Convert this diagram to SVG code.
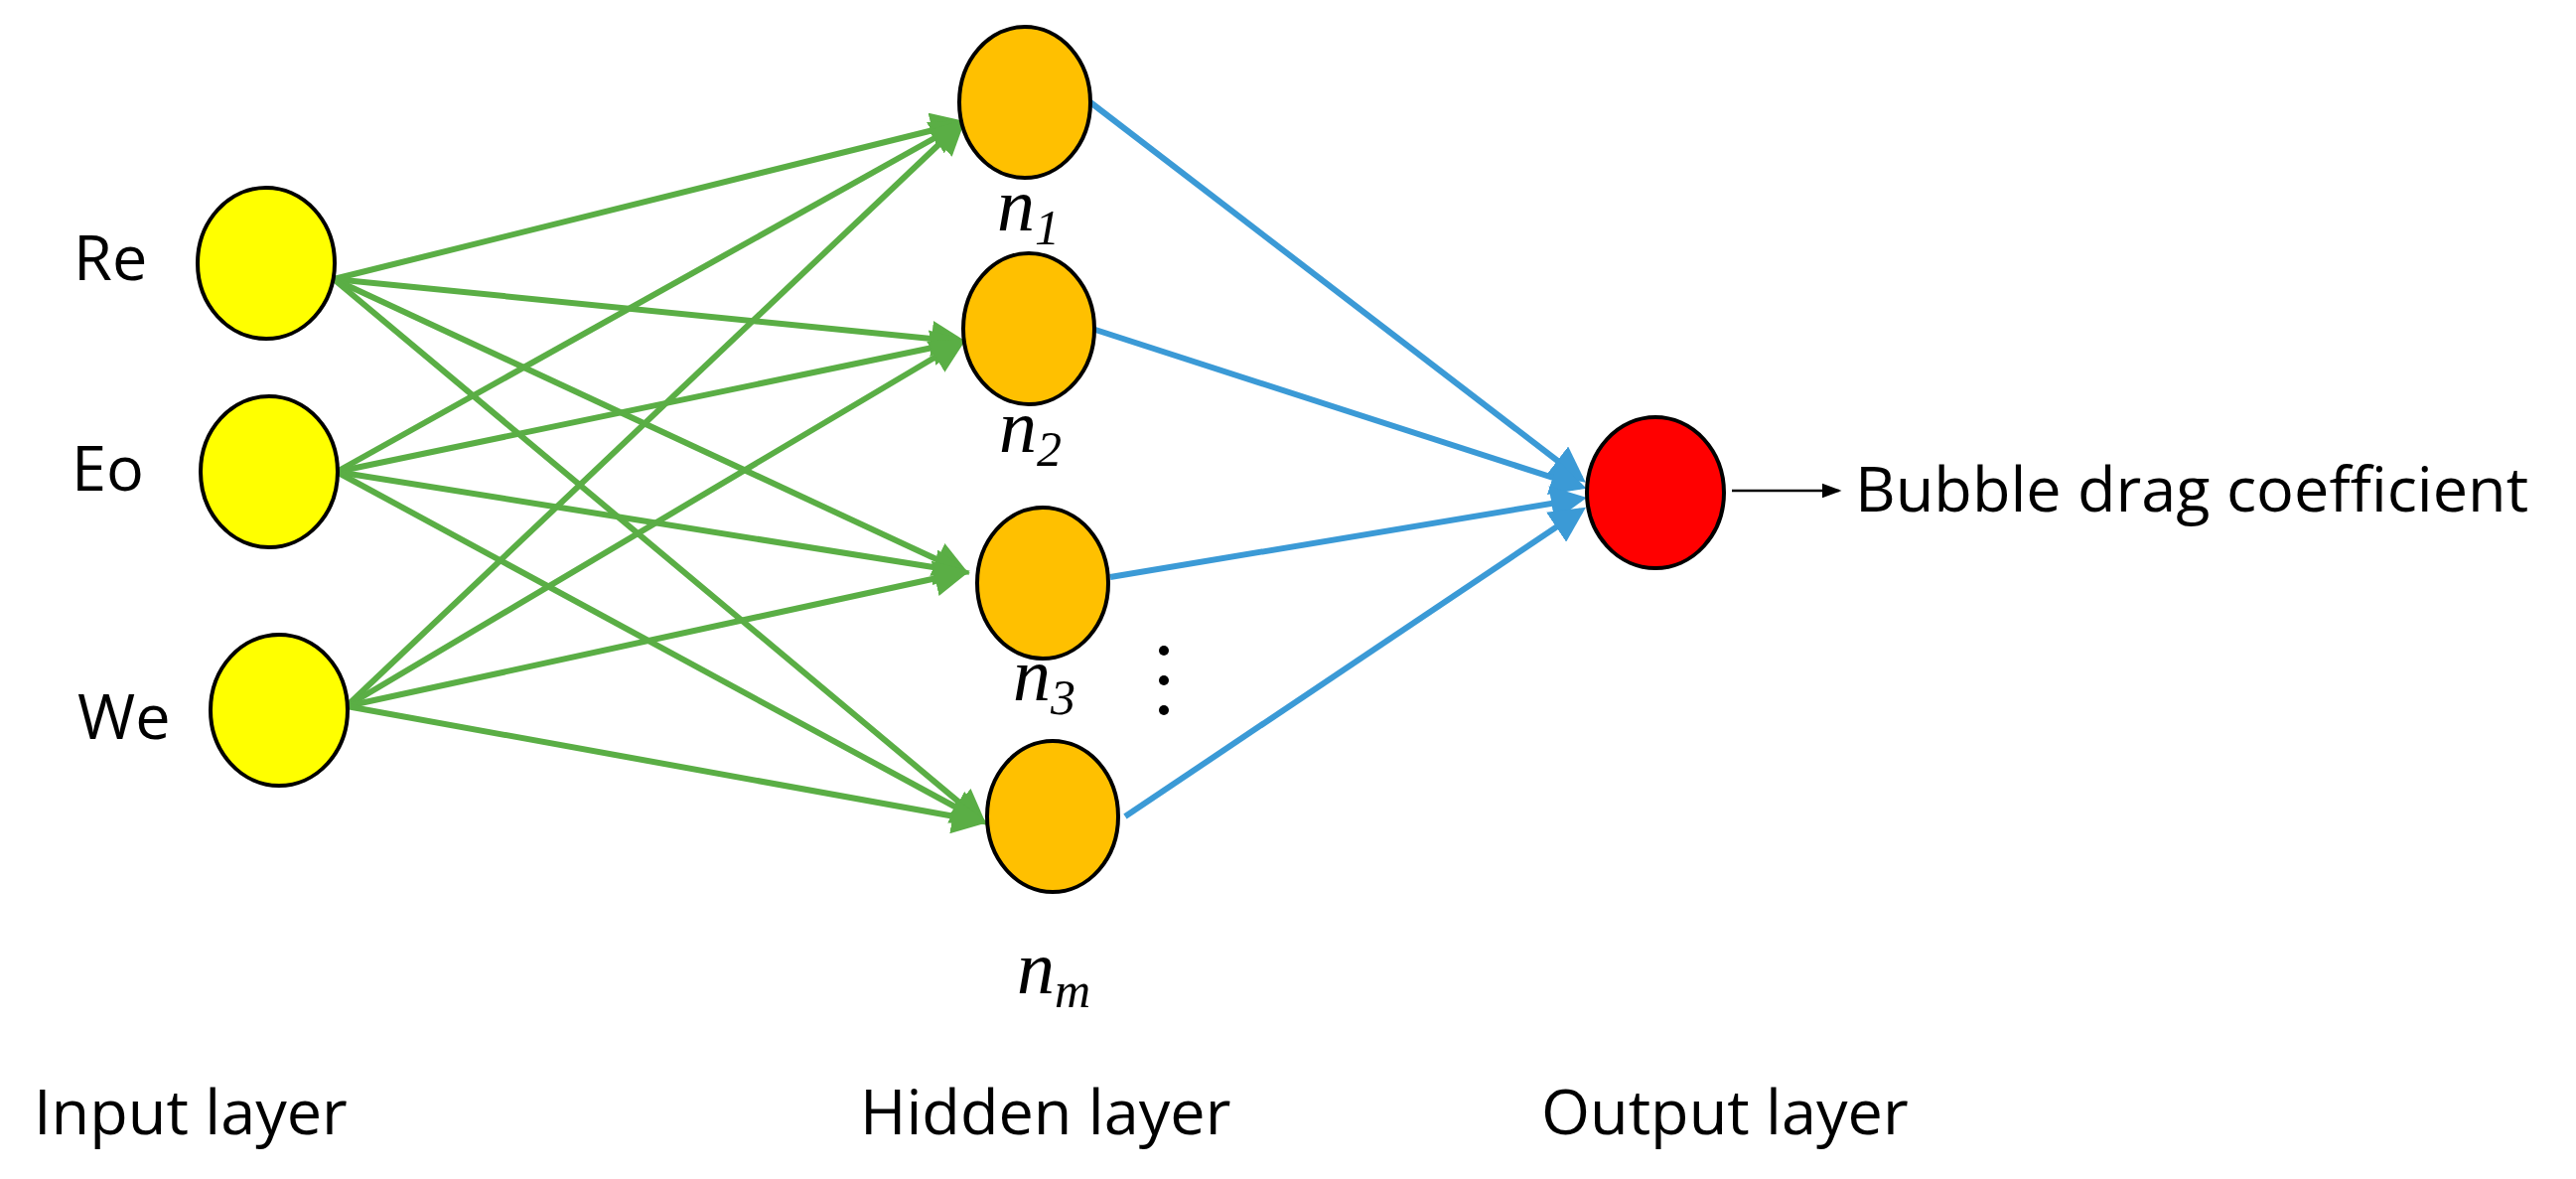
<svg xmlns="http://www.w3.org/2000/svg" width="2594" height="1187" viewBox="0 0 2594 1187">
<style>
.in{fill:#ffff00;stroke:#000;stroke-width:4}
.hid{fill:#ffc000;stroke:#000;stroke-width:4}
.out{fill:#ff0000;stroke:#000;stroke-width:4}
.g{stroke:#5aae45;stroke-width:6;fill:none;marker-end:url(#ag)}
.b{stroke:#3b9ad6;stroke-width:6;fill:none;marker-end:url(#ab)}
.t{font-family:"Open Sans","Liberation Sans",sans-serif;font-size:63px;fill:#000}
.m{font-family:"Liberation Serif",serif;font-style:italic;font-size:76px;fill:#000}
.s{font-size:50px}
</style>
<defs>
<marker id="ag" markerWidth="6" markerHeight="6" refX="5" refY="3" orient="auto" markerUnits="strokeWidth"><path d="M0,0 L6,3 L0,6 Z" fill="#5aae45"/></marker>
<marker id="ab" markerWidth="6" markerHeight="6" refX="5" refY="3" orient="auto" markerUnits="strokeWidth"><path d="M0,0 L6,3 L0,6 Z" fill="#3b9ad6"/></marker>
<marker id="ak" markerWidth="8" markerHeight="8" refX="7" refY="4" orient="auto" markerUnits="strokeWidth"><path d="M0,1 L8,4 L0,7 Z" fill="#000"/></marker>
</defs>
<g id="connectors">
<line class="g" x1="336" y1="281" x2="968" y2="124"/>
<line class="g" x1="336" y1="281" x2="968" y2="344"/>
<line class="g" x1="336" y1="281" x2="971" y2="576"/>
<line class="g" x1="336" y1="281" x2="989" y2="827"/>
<line class="g" x1="339" y1="475" x2="968" y2="124"/>
<line class="g" x1="339" y1="475" x2="968" y2="344"/>
<line class="g" x1="339" y1="475" x2="971" y2="576"/>
<line class="g" x1="339" y1="475" x2="989" y2="827"/>
<line class="g" x1="349" y1="711" x2="968" y2="124"/>
<line class="g" x1="349" y1="711" x2="968" y2="344"/>
<line class="g" x1="349" y1="711" x2="971" y2="576"/>
<line class="g" x1="349" y1="711" x2="989" y2="827"/>
<line class="b" x1="1098" y1="103" x2="1592" y2="482"/>
<line class="b" x1="1100" y1="331" x2="1592" y2="490"/>
<line class="b" x1="1118" y1="581" x2="1592" y2="502"/>
<line class="b" x1="1133" y1="822" x2="1592" y2="514"/>
<line x1="1744" y1="494" x2="1852" y2="494" stroke="#000" stroke-width="2.5" marker-end="url(#ak)"/>
</g>
<g id="re"><ellipse class="in" cx="268" cy="265" rx="69" ry="76"/><text class="t" x="74" y="282">Re</text></g>
<g id="eo"><ellipse class="in" cx="271" cy="475" rx="69" ry="76"/><text class="t" x="72" y="494">Eo</text></g>
<g id="we"><ellipse class="in" cx="281" cy="715" rx="69" ry="76"/><text class="t" x="78" y="744">We</text></g>
<g id="n1"><ellipse class="hid" cx="1032" cy="103" rx="66" ry="76"/><text class="m" x="1004" y="232">n<tspan class="s" dy="14">1</tspan></text></g>
<g id="n2"><ellipse class="hid" cx="1036" cy="331" rx="66" ry="76"/><text class="m" x="1006" y="455">n<tspan class="s" dy="14">2</tspan></text></g>
<g id="n3"><ellipse class="hid" cx="1050" cy="587" rx="66" ry="76"/><text class="m" x="1020" y="705">n<tspan class="s" dy="14">3</tspan></text></g>
<g id="nm"><ellipse class="hid" cx="1060" cy="822" rx="66" ry="76"/><text class="m" x="1024" y="1000">n<tspan class="s" dy="14">m</tspan></text></g>
<g id="dots" fill="#000"><circle cx="1172" cy="655" r="5"/><circle cx="1172" cy="685" r="5"/><circle cx="1172" cy="715" r="5"/></g>
<g id="output"><ellipse class="out" cx="1667" cy="496" rx="69" ry="76"/><text class="t" x="1868" y="515">Bubble drag coefficient</text></g>
<g id="labels">
<text class="t" x="34" y="1142">Input layer</text>
<text class="t" x="866" y="1142">Hidden layer</text>
<text class="t" x="1552" y="1142">Output layer</text>
</g>
</svg>
